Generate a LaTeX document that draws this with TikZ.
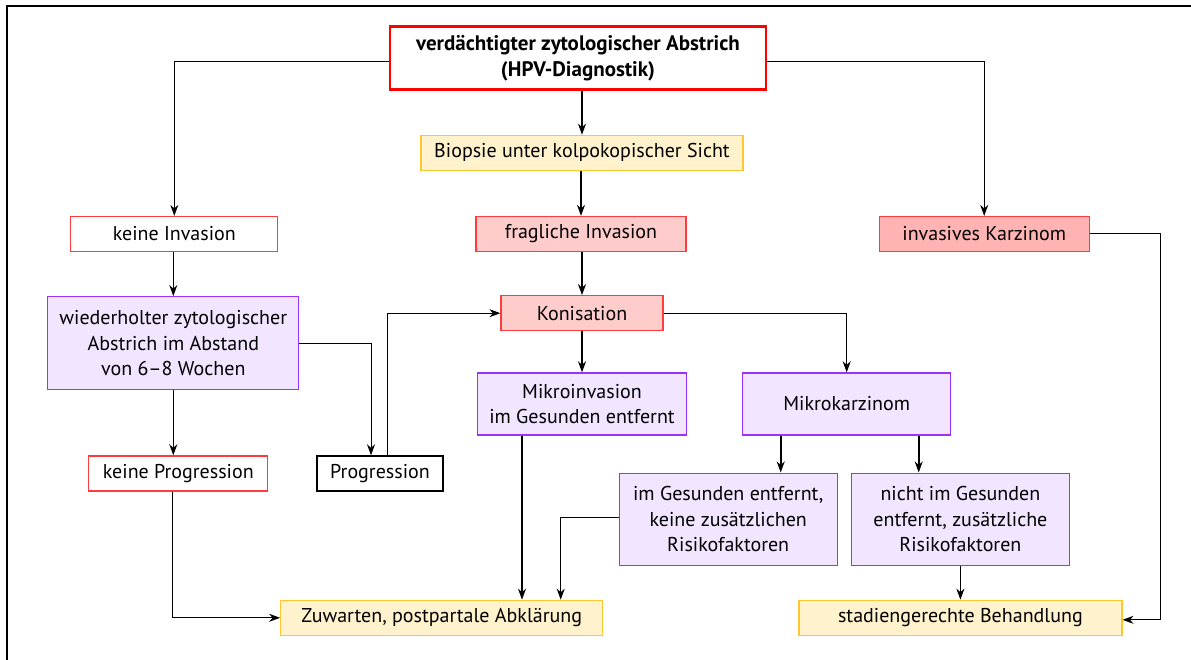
\documentclass[tikz,border=0pt]{standalone}
\usepackage{fontspec}
\setmainfont{PT Sans}
\usetikzlibrary{arrows.meta,positioning}
\definecolor{boxred}{HTML}{FF3C3C}
\definecolor{pinkfill}{HTML}{FFCCCC}
\definecolor{rosefill}{HTML}{FFB3B3}
\definecolor{lilacdraw}{HTML}{9B30FF}
\definecolor{lilacfill}{HTML}{F1E5FF}
\definecolor{golddraw}{HTML}{FFC62E}
\definecolor{goldfill}{HTML}{FFF2CC}
\tikzset{
    %Define standard arrow tip
    >={Stealth[length=11pt,width=8pt,inset=3.5pt]},
    %Define style for boxes
    box/.style={
           rectangle,
           draw, line width=1.2pt,
           minimum height=35pt,
           inner sep=3pt,
           align=center,
           font=\fontsize{20}{25.5}\selectfont},
    topbox/.style={
           box,
           draw=red, line width=2.4pt,
           minimum width=376pt,
           minimum height=63pt,
           font=\fontsize{21}{26}\selectfont\bfseries},
    redbox/.style={box, draw=boxred, fill=white},
    pinkbox/.style={box, draw=boxred, fill=pinkfill},
    rosebox/.style={box, draw=boxred, fill=rosefill},
    lilacbox/.style={box, draw=lilacdraw, fill=lilacfill},
    goldbox/.style={box, draw=golddraw, fill=goldfill},
    plainbox/.style={box, draw=black},
    % Define arrow styles
    imply/.style={
           ->,
           line width=1.6pt},
    route/.style={
           ->,
           line width=1pt}
}

\begin{document}
\begin{tikzpicture}[x=1pt, y=-1pt]
    \useasboundingbox (0,0) rectangle (1191,660);
    \draw[line width=1.6pt] (7,660) -- (7,6) -- (1191,6);
 %nodes
    \node[topbox] (susp) at (578,58) {verdächtigter zytologischer Abstrich\\(HPV-Diagnostik)};
    \node[goldbox, minimum width=322pt, below=44pt of susp, xshift=4pt] (biop) {Biopsie unter kolpokopischer Sicht};
    \node[pinkbox, minimum width=210pt, below=45pt of biop, xshift=-1pt] (doubt) {fragliche Invasion};
    \node[redbox, minimum width=207pt, left=197pt of doubt] (noinv) {keine Invasion};
    \node[rosebox, minimum width=210pt, right=192pt of doubt] (inv) {invasives Karzinom};
    \node[lilacbox, minimum width=251pt, minimum height=93pt, below=44pt of noinv, xshift=-1pt] (smear) {wiederholter zytologischer\\Abstrich im Abstand\\von 6--8 Wochen};
    \node[pinkbox, minimum width=162pt, below=43pt of doubt, xshift=1pt] (coni) {Konisation};
    \node[lilacbox, minimum width=209pt, minimum height=62pt, below=41pt of coni] (microinv) {Mikroinvasion\\im Gesunden entfernt};
    \node[lilacbox, minimum width=208pt, minimum height=62pt, right=55pt of microinv] (microca) {Mikrokarzinom};
    \node[redbox, minimum width=179pt, below=65pt of smear, xshift=5pt] (noprog) {keine Progression};
    \node[plainbox, minimum width=126pt, right=48pt of noprog] (prog) {Progression};
    \node[lilacbox, minimum width=218pt, minimum height=92pt, below=37pt of microca, xshift=-118.5pt] (clear) {im Gesunden entfernt,\\keine zusätzlichen\\Risikofaktoren};
    \node[lilacbox, minimum width=218pt, minimum height=92pt, right=13pt of clear] (notclear) {nicht im Gesunden\\entfernt, zusätzliche\\Risikofaktoren};
    \node[goldbox, minimum width=323pt, below=34pt of notclear] (stage) {stadiengerechte Behandlung};
    \node[goldbox, minimum width=322pt, left=195pt of stage] (wait) {Zuwarten, postpartale Abklärung};
    \coordinate[right=71pt of inv.east] (invturn);
 %edges
    \draw[imply] (biop.north |- susp.south) -- (biop.north);
    \draw[imply] (doubt.north |- biop.south) -- (doubt.north);
    \draw[imply] (coni.north |- doubt.south) -- (coni.north);
    \draw[imply] (coni.south) -- (microinv.north);
    \draw[route] ([yshift=-3.5pt]susp.west) -| (noinv.north);
    \draw[route] ([yshift=-3.5pt]susp.east) -| (inv.north);
    \draw[imply] (smear.north |- noinv.south) -- (smear.north);
    \draw[imply] (smear.south) -- (smear.south |- noprog.north);
    \draw[route] (smear.east) -| ([xshift=-9pt]prog.north);
    \draw[route] ([xshift=7pt]prog.north) |- (coni.west);
    \draw[route] (coni.east) -| (microca.north);
    \draw[route] (inv.east) -- (invturn) |- ([yshift=-2pt]stage.east);
    \draw[imply] ([xshift=-66pt]microca.south) -- ([xshift=-66pt]microca.south |- clear.north);
    \draw[imply] ([xshift=72pt]microca.south) -- ([xshift=72pt]microca.south |- notclear.north);
    \draw[imply] (notclear.south) -- (stage.north);
    \draw[imply] ([xshift=-60pt]microinv.south) -- ([xshift=-60pt]microinv.south |- wait.north);
    \draw[route] ([yshift=2pt]clear.west) -| ([xshift=119pt]wait.north);
    \draw[route] ([xshift=-5.5pt]noprog.south) |- (wait.west);
  \end{tikzpicture}
\end{document}
